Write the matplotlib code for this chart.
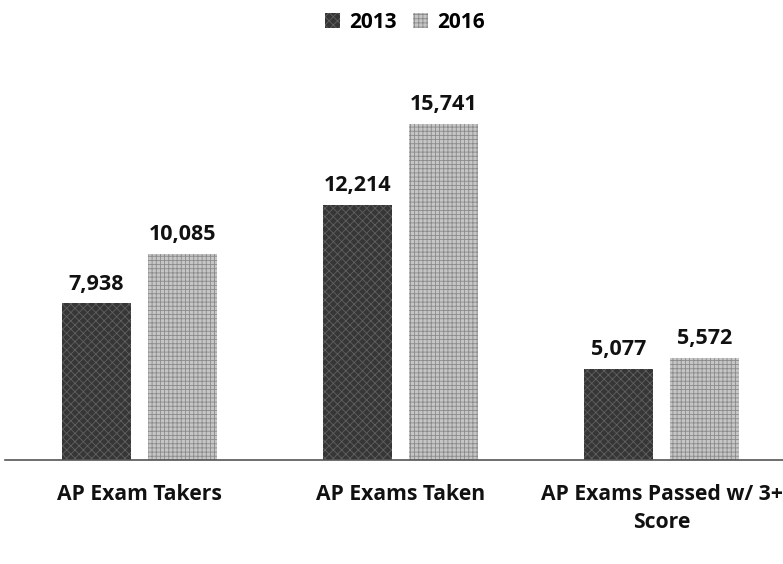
import numpy as np
import matplotlib.pyplot as plt

plt.rcParams['font.family'] = ['Open Sans', 'DejaVu Sans']
plt.rcParams['hatch.linewidth'] = 0.6

categories = ["AP Exam Takers", "AP Exams Taken", "AP Exams Passed w/ 3+\nScore"]
years = ["2013", "2016"]
values_2013 = [7938, 12214, 5077]
values_2016 = [10085, 15741, 5572]

fig = plt.figure(figsize=(7.83, 5.64), dpi=100)
ax = fig.add_axes([0.006, 0.184, 0.994, 0.745])

x = np.arange(len(categories))
width = 0.265
off = 0.165

# textured look of the scanned original approximated with dense hatching
b1 = ax.bar(x - off, values_2013, width, color='#363636', edgecolor='#606060',
            hatch='xxxx', linewidth=0, label=years[0])
b2 = ax.bar(x + off, values_2016, width, color='#c6c6c6', edgecolor='#8a8a8a',
            hatch='++++', linewidth=0, label=years[1])

for bars, vals in ((b1, values_2013), (b2, values_2016)):
    for rect, v in zip(bars, vals):
        ax.text(rect.get_x() + rect.get_width() / 2, v + 380, f"{v:,}",
                ha='center', va='bottom', fontsize=15.5, fontweight='bold', color='#111111')

ax.set_xlim(-0.515, 2.465)
ax.set_ylim(1115, 19400)
ax.set_xticks(x)
ax.set_xticklabels(categories, fontsize=15.2, fontweight='bold', color='#111111',
                   linespacing=1.42)
ax.tick_params(axis='x', length=0, pad=17)
ax.set_yticks([])
for s in ('top', 'right', 'left'):
    ax.spines[s].set_visible(False)
ax.spines['bottom'].set_color('#555555')
ax.spines['bottom'].set_linewidth(1.2)

fig.legend(handles=[b1, b2], labels=years, loc='upper center', ncol=2,
           bbox_to_anchor=(0.517, 1.012), frameon=False, handlelength=0.7,
           handleheight=0.7, handletextpad=0.45, columnspacing=0.8,
           prop={'weight': 'bold', 'size': 15})

fig.savefig('out.png', dpi=100)
